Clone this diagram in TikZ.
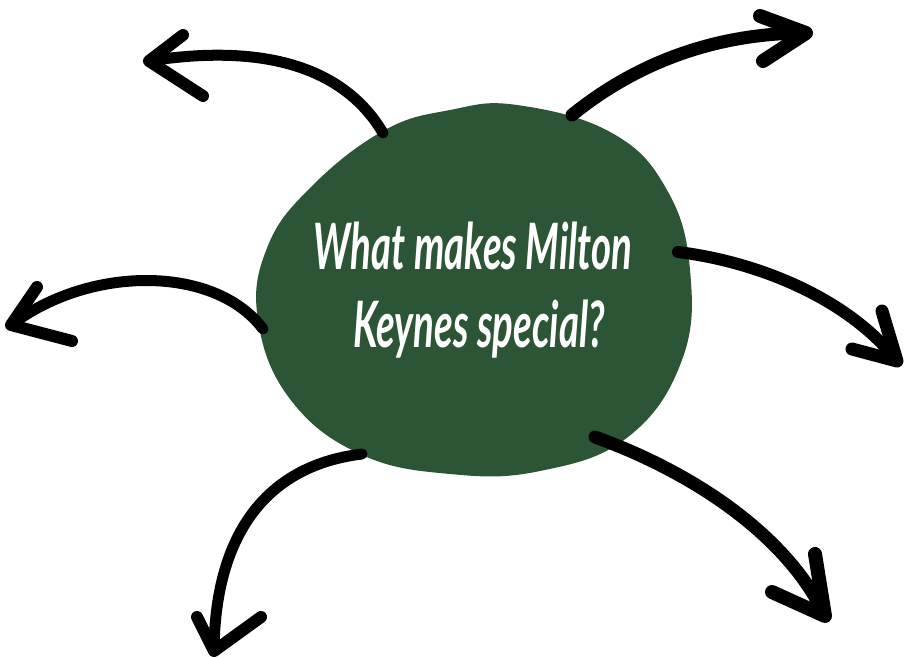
\documentclass[tikz,border=0pt]{standalone}
\usepackage{fontspec}
\usepackage{graphicx}
\setmainfont{Lato}
\definecolor{blobgreen}{HTML}{2C5535}
\begin{document}
\begin{tikzpicture}[x=1pt,y=-1pt,
  shaft/.style={line width=#1, line cap=round, line join=round, draw=black},
  shaft/.default=10,
  headstroke/.style={line width=#1, line cap=round, line join=round, draw=black},
  headstroke/.default=11,
  label/.style={text=white, font=\fontsize{64}{64}\selectfont\bfseries\itshape, anchor=base, inner sep=0pt}]
\useasboundingbox (0,0) rectangle (904,657);
% blob
\fill[blobgreen] plot[smooth cycle, tension=0.7] coordinates {
 (517,105) (612,133) (667,190) (690,270) (682,360) (628,437) (540,471)
 (450,474) (360,454) (290,399) (258,320) (267,248) (310,188) (383,131) (450,110)};
\coordinate (c) at (474,290);
% text
\node[label] (t1) at (473,269) {\scalebox{0.6}[1]{What makes Milton}};
\node[label] (t2) at (479,347) {\scalebox{0.6}[1]{Keynes special?}};
% arrow 1 top-left
\coordinate (s1) at (383,133); \coordinate (e1) at (149,61);
\coordinate (a1) at (183,35); \coordinate (b1) at (203,96);
\draw[shaft=11] (s1) .. controls (340,60) and (250,45) .. (e1);
\draw[headstroke=12] (a1) -- (e1) -- (b1);
% arrow 2 top-right
\coordinate (s2) at (572,115); \coordinate (e2) at (806,33);
\coordinate (a2) at (760,16); \coordinate (b2) at (763,61);
\draw[shaft=13] (s2) .. controls (640,60) and (720,33) .. (e2);
\draw[headstroke=14] (a2) -- (e2) -- (b2);
% arrow 3 left
\coordinate (s3) at (263,329); \coordinate (e3) at (11,325);
\coordinate (a3) at (37,287); \coordinate (b3) at (72,341);
\draw[shaft=11] (s3) .. controls (215,265) and (90,265) .. (e3);
\draw[headstroke=12] (a3) -- (e3) -- (b3);
% arrow 4 right
\coordinate (s4) at (678,252); \coordinate (e4) at (897,361);
\coordinate (a4) at (882,311); \coordinate (b4) at (852,349);
\draw[shaft=12] (s4) .. controls (760,262) and (850,300) .. (e4);
\draw[headstroke=13] (a4) -- (e4) -- (b4);
% arrow 5 bottom-left
\coordinate (s5) at (362,454); \coordinate (e5) at (214,651);
\coordinate (a5) at (197,617); \coordinate (b5) at (261,617);
\draw[shaft=11] (s5) .. controls (270,465) and (215,530) .. (e5);
\draw[headstroke=12] (a5) -- (e5) -- (b5);
% arrow 6 bottom-right
\coordinate (s6) at (595,437); \coordinate (e6) at (825,616);
\coordinate (a6) at (815,554); \coordinate (b6) at (772,592);
\draw[shaft=13] (s6) .. controls (700,475) and (790,540) .. (e6);
\draw[headstroke=14] (a6) -- (e6) -- (b6);
\end{tikzpicture}
\end{document}
